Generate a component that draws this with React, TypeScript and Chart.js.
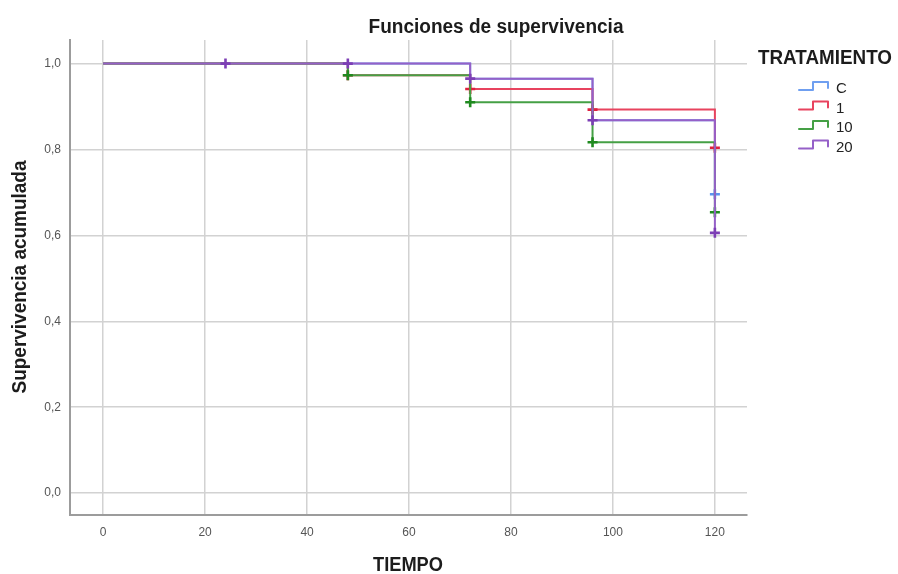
import React, { useEffect, useRef } from "react";
import { Chart, registerables } from "chart.js";

Chart.register(...registerables);

// ---- Data ----
const groups = ["C", "1", "10", "20"];
const groupColors = ["#6f9ff0", "#e8435e", "#45a045", "#9560c8"];
const markerColors = ["#5b93f0", "#e0203f", "#1f8a1f", "#7d3fb5"];

// survival step curves (time, cumulative survival)
const timesC = [0, 72, 96, 120];
const survC = [1.0, 0.965, 0.868, 0.696];
const times1 = [0, 48, 72, 96, 120];
const surv1 = [1.0, 0.973, 0.941, 0.893, 0.804];
const times10 = [0, 48, 72, 96, 120];
const surv10 = [1.0, 0.973, 0.91, 0.817, 0.654];
const times20 = [0, 72, 96, 120];
const surv20 = [1.0, 0.965, 0.868, 0.606];

// censored observations
const censTimesC = [120];
const censSurvC = [0.696];
const censTimes1 = [48, 72, 96, 120];
const censSurv1 = [0.973, 0.941, 0.893, 0.804];
const censTimes10 = [48, 72, 96, 120];
const censSurv10 = [0.973, 0.91, 0.817, 0.654];
const censTimes20 = [24, 48, 72, 96, 120];
const censSurv20 = [1.0, 1.0, 0.965, 0.868, 0.606];

const xTicks = [0, 20, 40, 60, 80, 100, 120];
const yTicks = [0, 0.2, 0.4, 0.6, 0.8, 1.0];

const chartTitle = "Funciones de supervivencia";
const xTitle = "TIEMPO";
const yTitle = "Supervivencia acumulada";
const legendTitle = "TRATAMIENTO";

const FONT = "'Liberation Sans', Arial, sans-serif";

const curveTimes = [timesC, times1, times10, times20];
const curveSurv = [survC, surv1, surv10, surv20];
const censTimes = [censTimesC, censTimes1, censTimes10, censTimes20];
const censSurv = [censSurvC, censSurv1, censSurv10, censSurv20];

function drawFitted(
  ctx: CanvasRenderingContext2D,
  text: string,
  cx: number,
  cy: number,
  size: number,
  targetW: number,
  rotate = false
) {
  ctx.save();
  ctx.font = `bold ${size}px ${FONT}`;
  ctx.fillStyle = "#1c1c1c";
  ctx.textAlign = "center";
  ctx.textBaseline = "middle";
  ctx.translate(cx, cy);
  if (rotate) ctx.rotate(-Math.PI / 2);
  const w = ctx.measureText(text).width;
  ctx.scale(targetW / w, 1);
  ctx.fillText(text, 0, 0);
  ctx.restore();
}

const annotationsPlugin = {
  id: "spssDecor",
  afterDraw(chart: any) {
    const ctx: CanvasRenderingContext2D = chart.ctx;
    drawFitted(ctx, chartTitle, 496, 27, 20, 255);
    drawFitted(ctx, xTitle, 408, 565, 20, 70);
    drawFitted(ctx, yTitle, 20, 277, 20, 233, true);
    drawFitted(ctx, legendTitle, 758 + 67, 58.5, 20, 134);

    groups.forEach((g, i) => {
      const yc = 89 + i * 19.5;
      ctx.save();
      ctx.strokeStyle = groupColors[i];
      ctx.lineWidth = 2;
      ctx.lineJoin = "round";
      ctx.lineCap = "round";
      ctx.beginPath();
      ctx.moveTo(799, yc + 1);
      ctx.lineTo(813, yc + 1);
      ctx.lineTo(813, yc - 7);
      ctx.lineTo(828, yc - 7);
      ctx.lineTo(828, yc - 1);
      ctx.stroke();
      ctx.font = `15px ${FONT}`;
      ctx.fillStyle = "#222";
      ctx.textAlign = "left";
      ctx.textBaseline = "middle";
      ctx.fillText(g, 836, yc);
      ctx.restore();
    });
  },
};

export default function App() {
  const ref = useRef<HTMLCanvasElement | null>(null);

  useEffect(() => {
    if (!ref.current) return;
    const datasets: any[] = [];
    groups.forEach((g, i) => {
      datasets.push({
        label: g,
        data: curveTimes[i].map((t, k) => ({ x: t, y: curveSurv[i][k] })),
        borderColor: groupColors[i],
        borderWidth: 2,
        stepped: "before",
        pointRadius: 0,
        fill: false,
        order: 10 - i * 2,
      });
      datasets.push({
        label: g + " censurado",
        data: censTimes[i].map((t, k) => ({ x: t, y: censSurv[i][k] })),
        showLine: false,
        pointStyle: "cross",
        pointRadius: 5,
        borderWidth: 2.6,
        borderColor: markerColors[i],
        backgroundColor: markerColors[i],
        order: 9 - i * 2,
      });
    });

    const chart = new Chart(ref.current, {
      type: "line",
      data: { datasets },
      options: {
        animation: false,
        responsive: false,
        maintainAspectRatio: false,
        layout: { padding: { left: 0, right: 151, top: 40, bottom: 0 } },
        plugins: {
          legend: { display: false },
          title: { display: false },
          tooltip: { enabled: false },
        },
        scales: {
          x: {
            type: "linear",
            min: -6.5,
            max: 126.3,
            afterBuildTicks: (s: any) => {
              s.ticks = xTicks.map((v) => ({ value: v }));
            },
            afterFit: (s: any) => {
              s.height = 59;
            },
            grid: {
              color: "#d2d2d2",
              lineWidth: 1.5,
              drawTicks: false,
            },
            border: { display: true, color: "#9c9c9c", width: 2 },
            ticks: {
              padding: 10,
              color: "#555",
              font: { family: FONT, size: 12 },
              callback: (v: any) => String(v),
            },
          },
          y: {
            type: "linear",
            min: -0.051,
            max: 1.055,
            afterBuildTicks: (s: any) => {
              s.ticks = yTicks.map((v) => ({ value: v }));
            },
            afterFit: (s: any) => {
              s.width = 70;
            },
            grid: {
              color: "#d2d2d2",
              lineWidth: 1.5,
              drawTicks: false,
            },
            border: { display: true, color: "#9c9c9c", width: 2 },
            ticks: {
              padding: 9,
              color: "#555",
              font: { family: FONT, size: 12 },
              callback: (v: any) => Number(v).toFixed(1).replace(".", ","),
            },
          },
        },
      } as any,
      plugins: [annotationsPlugin],
    });
    return () => chart.destroy();
  }, []);

  return (
    <div style={{ position: "absolute", left: 0, top: 0, width: 898, height: 574, background: "#fff" }}>
      <canvas ref={ref} width={898} height={574} style={{ width: 898, height: 574, display: "block" }} />
    </div>
  );
}
